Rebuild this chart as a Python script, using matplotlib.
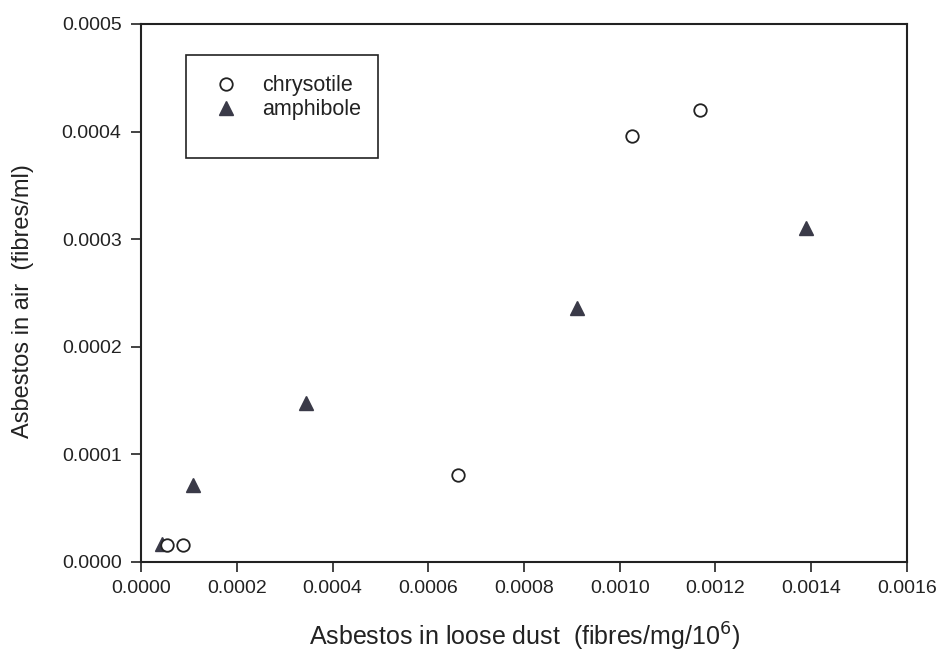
import matplotlib.pyplot as plt
from matplotlib.patches import Rectangle
from matplotlib.ticker import FormatStrFormatter, MultipleLocator

plt.rcParams['font.family'] = ['Liberation Sans', 'DejaVu Sans']

# data
chrysotile_x = [0.0000543, 0.0000877, 0.000662, 0.001026, 0.001168]
chrysotile_y = [0.0000158, 0.0000158, 0.0000809, 0.000396, 0.000420]
amphibole_x = [0.0000439, 0.000109, 0.000345, 0.000911, 0.001389]
amphibole_y = [0.0000165, 0.0000716, 0.0001478, 0.000236, 0.000310]

fig = plt.figure(figsize=(9.44, 6.52), dpi=100)
ax = fig.add_axes([141 / 944, 1 - 562 / 652, 766 / 944, 538 / 652])

ax.plot(amphibole_x, amphibole_y, linestyle='none', marker='^', markersize=9.5,
        color='#3a3a48', label='amphibole')
ax.plot(chrysotile_x, chrysotile_y, linestyle='none', marker='o', markersize=9,
        markerfacecolor='white', markeredgecolor='#222222', markeredgewidth=1.3,
        label='chrysotile')

ax.set_xlim(0, 0.0016)
ax.set_ylim(0, 0.0005)
ax.xaxis.set_major_locator(MultipleLocator(0.0002))
ax.yaxis.set_major_locator(MultipleLocator(0.0001))
ax.xaxis.set_major_formatter(FormatStrFormatter('%.4f'))
ax.yaxis.set_major_formatter(FormatStrFormatter('%.4f'))
ax.tick_params(direction='out', length=7, width=1.2, labelsize=14, colors='#222222')
ax.tick_params(axis='x', pad=6)
ax.tick_params(axis='y', pad=7)
for s in ax.spines.values():
    s.set_linewidth(1.5)
    s.set_color('#222222')

ax.set_xlabel('Asbestos in loose dust  (fibres/mg/10$^6$)', fontsize=18, labelpad=17,
              color='#222222')
ax.set_ylabel('Asbestos in air  (fibres/ml)', fontsize=17, color='#222222')
ax.yaxis.set_label_coords(-0.14, 0.485)

# legend: chrysotile first, box taller than the entries
handles, labels = ax.get_legend_handles_labels()
leg = ax.legend(handles[::-1], labels[::-1], loc='upper left',
                bbox_to_anchor=(0.086, 0.921), frameon=False, fontsize=15.5,
                handletextpad=1.15, labelspacing=0.15, handlelength=1.0,
                borderaxespad=0)
for t in leg.get_texts():
    t.set_color('#222222')
ax.add_patch(Rectangle((0.059, 0.751), 0.25, 0.191, transform=ax.transAxes,
                       fill=False, edgecolor='#222222', linewidth=1.2))

fig.savefig('out.png', dpi=100, facecolor='white')
